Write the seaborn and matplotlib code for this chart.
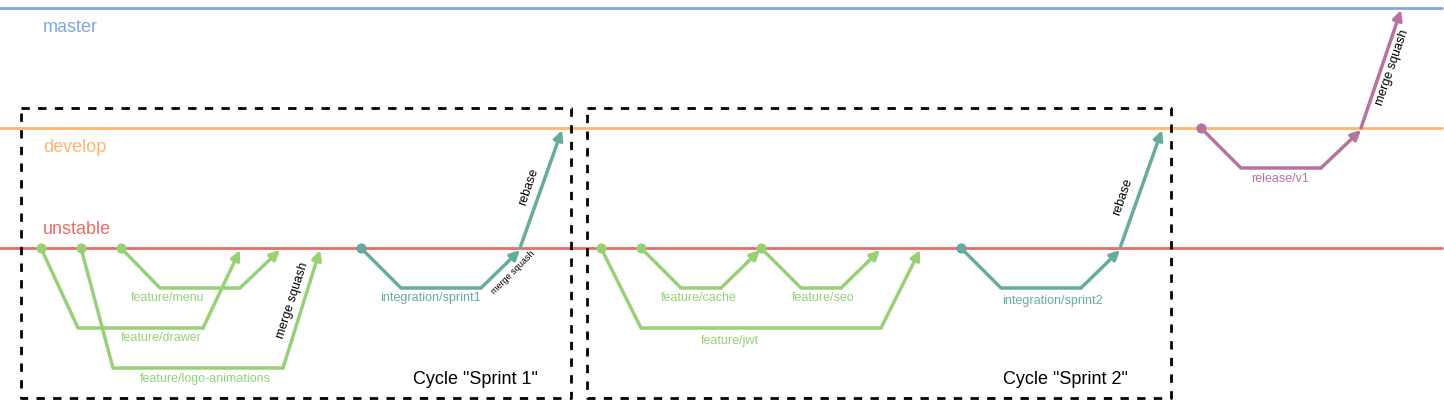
import matplotlib
matplotlib.use("Agg")
import matplotlib.pyplot as plt
import seaborn as sns
import pandas as pd

sns.set_theme(style="white")
plt.rcParams['font.family'] = ['Liberation Sans', 'DejaVu Sans']

# main lines
main_names = ["master", "develop", "unstable"]
main_y = [8, 128, 248]
main_colors = ["#7EA6E0", "#FFB570", "#EA6B66"]
main_label_y = [28, 148, 229]

# branches: name, colour, path x, path y, label position
GREEN = "#97D077"
TEAL = "#67AB9F"
PURPLE = "#B5739D"
branch_names = ["feature/menu", "feature/drawer", "feature/logo-animations",
                "integration/sprint1", "feature/cache", "feature/seo",
                "feature/jwt", "integration/sprint2", "release/v1"]
branch_colors = [GREEN, GREEN, GREEN, TEAL, GREEN, GREEN, GREEN, TEAL, PURPLE]
branch_x = [[121, 160, 240, 280], [41, 78, 203, 240], [81, 113, 283, 320],
            [361, 401, 481, 520], [641, 681, 721, 760], [761, 801, 841, 880],
            [601, 641, 881, 920], [961, 1001, 1081, 1120], [1201, 1241, 1321, 1361]]
branch_y = [[248, 288, 288, 250], [248, 328, 328, 250], [248, 368, 368, 250],
            [248, 288, 288, 250], [248, 288, 288, 250], [248, 288, 288, 250],
            [248, 328, 328, 250], [248, 288, 288, 250], [128, 168, 168, 130]]
label_x = [168, 161, 205, 430, 699, 823, 730, 1052, 1280]
label_y = [298, 338, 379, 298, 298, 298, 341, 301, 179]

# promotions (rebase / merge squash upward)
promo_x = [[520, 562], [1120, 1162], [1361, 1401]]
promo_y = [[248, 130], [248, 130], [128, 10]]
promo_colors = [TEAL, TEAL, PURPLE]
promo_text = ["rebase", "rebase", "merge squash"]
promo_text_pos = [(529, 187), (1123, 197), (1392, 68)]

fig = plt.figure(figsize=(14.44, 4.0), dpi=100)
ax = fig.add_axes([0, 0, 1, 1])
ax.set_xlim(0, 1444)
ax.set_ylim(400, 0)
ax.axis("off")

for n, y, c, ly in zip(main_names, main_y, main_colors, main_label_y):
    ax.plot([0, 1442], [y, y], color=c, lw=2)
    ax.text(43, ly, n, color=c, fontsize=13, va="center")

for n, c, xs, ys, lx, ly in zip(branch_names, branch_colors, branch_x, branch_y, label_x, label_y):
    df = pd.DataFrame({"x": xs[:-1], "y": ys[:-1]})
    sns.lineplot(data=df, x="x", y="y", sort=False, estimator=None, color=c, lw=2.5,
                 solid_joinstyle="round", solid_capstyle="round", ax=ax)
    ax.annotate("", xy=(xs[-1], ys[-1]), xytext=(xs[-2], ys[-2]),
                arrowprops=dict(arrowstyle="-|>", color=c, lw=2.5, mutation_scale=14,
                                shrinkA=0, shrinkB=0))
    ax.scatter([xs[0]], [ys[0]], color=c, s=40, zorder=5)
    ax.text(lx, ly, n, color=c, fontsize=9, ha="center", va="center")

for xs, ys, c, t, (tx, ty) in zip(promo_x, promo_y, promo_colors, promo_text, promo_text_pos):
    ax.annotate("", xy=(xs[1], ys[1]), xytext=(xs[0], ys[0]),
                arrowprops=dict(arrowstyle="-|>", color=c, lw=2.5, mutation_scale=14,
                                shrinkA=0, shrinkB=0))
    ax.text(tx, ty, t, fontsize=9, rotation=71, ha="center", va="center", color="black")

ax.text(293, 300, "merge squash", fontsize=9, rotation=72, ha="center", va="center", color="black")
ax.text(513, 273, "merge squash", fontsize=6.5, rotation=45, ha="center", va="center", color="black")

# cycle boxes
boxes = [(21, 108, 571, 398), (587, 108, 1171, 398)]
box_labels = ['Cycle "Sprint 1"', 'Cycle "Sprint 2"']
box_label_x = [475, 1065]
for (x0, y0, x1, y1), bl, bx in zip(boxes, box_labels, box_label_x):
    ax.plot([x0, x1, x1, x0, x0], [y0, y0, y1, y1, y0], color="black", lw=2, ls=(0, (3, 3)))
    ax.text(bx, 379, bl, fontsize=13, ha="center", va="center", color="black")

fig.savefig("out.png", dpi=100)
